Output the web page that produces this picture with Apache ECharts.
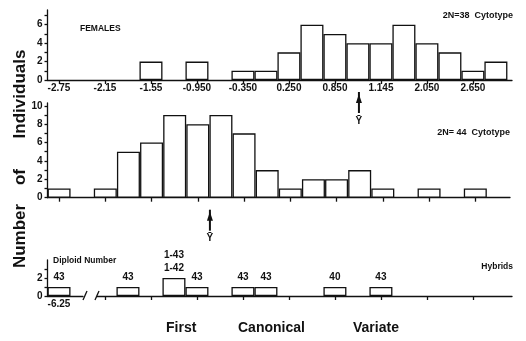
<!DOCTYPE html>
<html>
<head>
<meta charset="utf-8">
<script src="https://cdn.jsdelivr.net/npm/echarts@6/dist/echarts.min.js"></script>
<style>
  html, body { margin: 0; padding: 0; background: #fff; }
  #chart { width: 526px; height: 341px; }
</style>
</head>
<body>
<div id="chart"></div>
<script>
// bin centres of the first canonical variate (bins are 0.3 wide)
const binCenters = [-2.75, -2.45, -2.15, -1.85, -1.55, -1.25, -0.95, -0.65, -0.35, -0.05,
  0.25, 0.55, 0.85, 1.15, 1.45, 1.75, 2.05, 2.35, 2.65, 2.95];
// counts per bin
const females38 = [0, 0, 0, 0, 2, 0, 2, 0, 1, 1, 3, 6, 5, 4, 4, 6, 4, 3, 1, 2];
const cytotype44 = [1, 0, 1, 5, 6, 9, 8, 9, 7, 3, 1, 2, 2, 3, 1, 0, 1, 0, 1, 0];
const hybrids = [0, 0, 0, 1, 0, 2, 1, 0, 1, 1, 0, 0, 1, 0, 1, 0, 0, 0, 0, 0];
const hybridLabels = ["", "", "", "43", "", "1-43\n1-42", "43", "", "43", "43", "", "", "40", "", "43", "", "", "", "", ""];
// the outlying hybrid, drawn past the axis break
const outlierX = -6.25;
const outlierCount = 1;
const outlierLabel = "43";
// x axis ticks and their printed labels
const tickValues = [-2.75, -2.15, -1.55, -0.95, -0.35, 0.25, 0.85, 1.45, 2.05, 2.65];
const tickLabels = ["-2.75", "-2.15", "-1.55", "-0.950", "-0.350", "0.250", "0.850", "1.145", "2.050", "2.650"];
// means (arrows)
const meanFemales = 1.163;
const meanCytotype44 = -0.793;

const FONT = '"Liberation Sans", Arial, sans-serif';
const INK = "#111";

const chart = echarts.init(document.getElementById("chart"), null, { renderer: "canvas" });

const pairs = (vals, labels) =>
  binCenters
    .map((c, i) => ({ name: labels ? labels[i] : "", value: [c, vals[i]] }))
    .filter((d) => d.value[1] > 0);

const lineStyle = { color: INK, width: 1.3 };
const tickLabelFmt = (v) => {
  const i = tickValues.findIndex((t) => Math.abs(t - v) < 1e-6);
  return i >= 0 ? tickLabels[i] : "";
};
const range = (n) => Array.from({ length: n + 1 }, (_, i) => i);

function xAxis(grid, min, max, opts) {
  return Object.assign({
    gridIndex: grid, type: "value", min, max,
    axisLine: { show: true, onZero: false, lineStyle },
    axisTick: { show: true, length: 4, customValues: tickValues, lineStyle },
    axisLabel: { show: false },
    splitLine: { show: false },
  }, opts);
}
function yAxis(grid, max, labels, ticks) {
  return {
    gridIndex: grid, type: "value", min: 0, max,
    axisLine: { show: true, onZero: false, lineStyle },
    axisTick: { show: true, length: 3, customValues: ticks, lineStyle },
    axisLabel: { show: true, customValues: labels, margin: 5, color: INK, fontFamily: FONT, fontWeight: "bold", fontSize: 10 },
    splitLine: { show: false },
  };
}

const barStyle = { color: "#fff", borderColor: INK, borderWidth: 1.3 };
const barLabel = {
  show: true, position: "top", distance: 3, formatter: "{b}",
  color: INK, fontFamily: FONT, fontWeight: "bold", fontSize: 10, lineHeight: 13,
};

chart.setOption({
  animation: false,
  backgroundColor: "#fff",
  grid: [
    { left: 47.5, right: 14, top: 10, height: 70 },
    { left: 47.5, right: 16, top: 103, height: 94.7 },
    { left: 47.5, width: 35.5, top: 260, height: 36 },
    { left: 97, right: 14, top: 260, height: 36 },
  ],
  xAxis: [
    xAxis(0, -2.9, 3.16, {
      axisLabel: { show: true, customValues: tickValues, formatter: tickLabelFmt, margin: 3,
        color: INK, fontFamily: FONT, fontWeight: "bold", fontSize: 10 },
    }),
    xAxis(1, -2.9, 3.1),
    xAxis(2, -6.4, -5.937, {
      axisTick: { show: false },
      axisLabel: { show: true, customValues: [outlierX], formatter: () => String(outlierX), margin: 3,
        color: INK, fontFamily: FONT, fontWeight: "bold", fontSize: 10 },
    }),
    xAxis(3, -2.254, 3.16, {
      axisTick: { show: true, length: 4, customValues: tickValues.slice(1), lineStyle },
    }),
  ],
  yAxis: [
    yAxis(0, 7.6, [0, 2, 4, 6], range(7)),
    yAxis(1, 10.3, [0, 2, 4, 6, 8, 10], range(10)),
    yAxis(2, 4, [0, 2], range(3)),
    { gridIndex: 3, type: "value", min: 0, max: 4, show: false },
  ],
  series: [
    { type: "bar", xAxisIndex: 0, yAxisIndex: 0, barWidth: 23, itemStyle: barStyle, data: pairs(females38) },
    { type: "bar", xAxisIndex: 1, yAxisIndex: 1, barWidth: 23, itemStyle: barStyle, data: pairs(cytotype44) },
    { type: "bar", xAxisIndex: 2, yAxisIndex: 2, barWidth: 23, itemStyle: barStyle, label: barLabel,
      data: [{ name: outlierLabel, value: [outlierX, outlierCount] }] },
    { type: "bar", xAxisIndex: 3, yAxisIndex: 3, barWidth: 23, itemStyle: barStyle, label: barLabel,
      data: pairs(hybrids, hybridLabels) },
  ],
});

// mean arrows and axis break marks, placed through the axes
const txt = (x, y, text, size, align, extra) =>
  Object.assign({
    type: "text", x, y, silent: true,
    style: { text, fill: INK, font: `bold ${size}px ${FONT}`, textAlign: align || "left", textVerticalAlign: "middle" },
  }, extra || {});

function meanArrow(grid, mean) {
  const [x, y0] = chart.convertToPixel({ gridIndex: grid }, [mean, 0]);
  return [
    { type: "line", shape: { x1: x, y1: y0 + 12, x2: x, y2: y0 + 33 }, style: { stroke: INK, lineWidth: 2 } },
    { type: "polygon", shape: { points: [[x, y0 + 14], [x - 3, y0 + 23], [x + 3, y0 + 23]] }, style: { fill: INK } },
    txt(x, y0 + 41, "Ȳ", 10, "center"),
  ];
}

const [brkA, brkY] = chart.convertToPixel({ gridIndex: 2 }, [-5.937, 0]);
const [brkB] = chart.convertToPixel({ gridIndex: 3 }, [-2.254, 0]);
const slash = (x) => ({ type: "line", shape: { x1: x - 2, y1: brkY + 4, x2: x + 2, y2: brkY - 5 }, style: { stroke: INK, lineWidth: 1.3 } });

chart.setOption({
  graphic: [
    ...meanArrow(0, meanFemales),
    ...meanArrow(1, meanCytotype44),
    slash(brkA + 2),
    slash(brkB),
    txt(80, 29, "FEMALES", 8.5),
    txt(513, 16, "2N=38  Cytotype", 9, "right"),
    txt(510, 133, "2N= 44  Cytotype", 9, "right"),
    txt(53, 261, "Diploid Number", 8.5),
    txt(513, 267, "Hybrids", 8.5, "right"),
    txt(166, 328, "First", 14),
    txt(238, 328, "Canonical", 14),
    txt(353, 328, "Variate", 14),
    txt(20, 94, "Individuals", 17, "center", { rotation: Math.PI / 2 }),
    txt(20, 177, "of", 17, "center", { rotation: Math.PI / 2 }),
    txt(20, 236, "Number", 17, "center", { rotation: Math.PI / 2 }),
  ],
});
</script>
</body>
</html>
